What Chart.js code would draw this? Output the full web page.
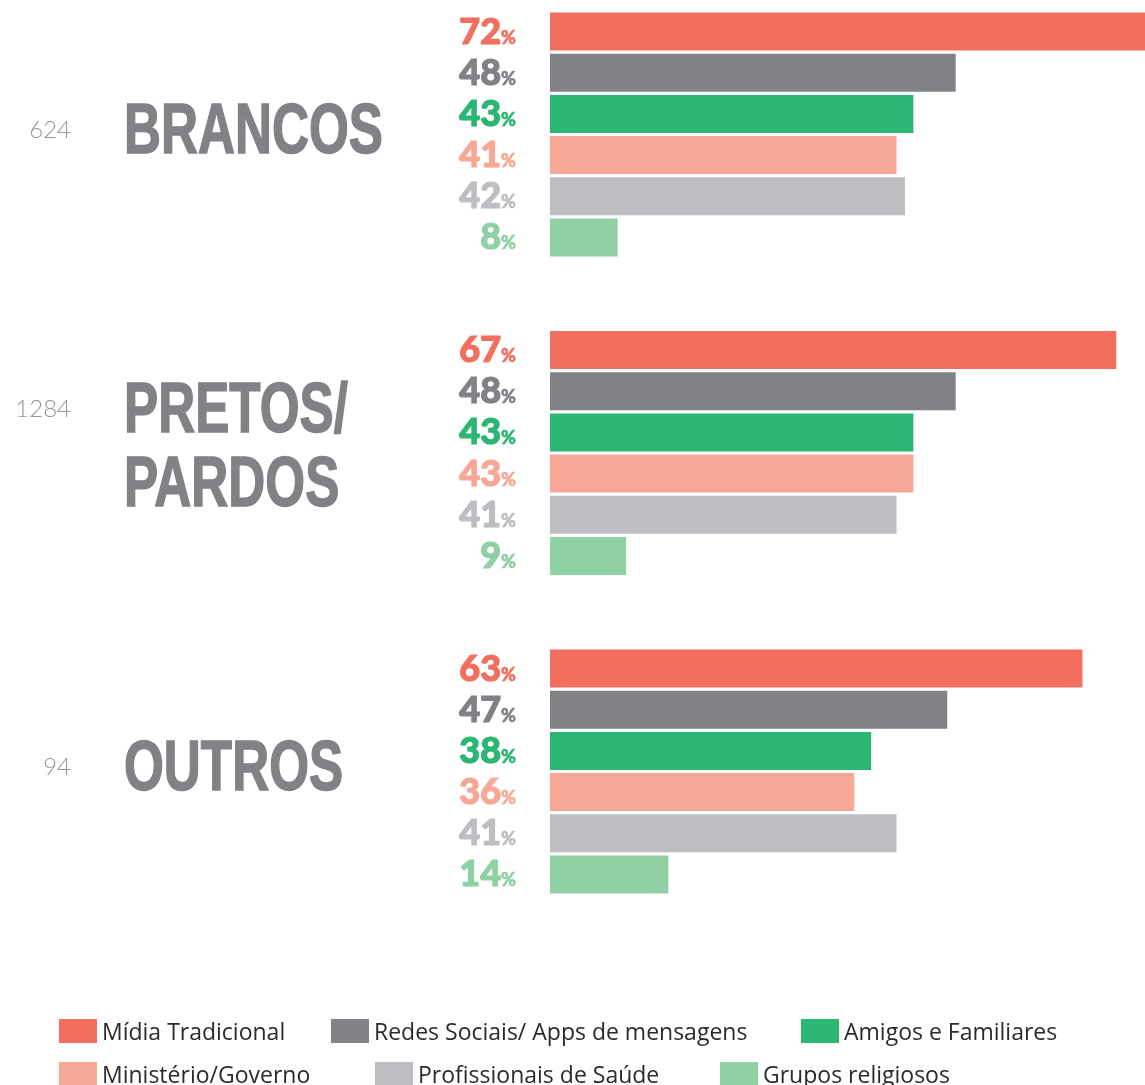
<!DOCTYPE html>
<html>
<head>
<meta charset="utf-8">
<script src="https://cdn.jsdelivr.net/npm/chart.js@4.4.0/dist/chart.umd.min.js"></script>
<style>
body { margin: 0; background: #fff; }
#wrap { position: relative; width: 1145px; height: 1085px; overflow: hidden; }
#chart { position: absolute; left: 0; top: 0; }
.leg { position: absolute; display: flex; align-items: center; height: 24px; font-family: "Open Sans", sans-serif; font-size: 23px; color: #2b2b2b; white-space: nowrap; }
.leg .box { width: 38px; height: 24px; margin-right: 5px; flex: none; }
</style>
</head>
<body>
<div id="wrap">
  <canvas id="chart" width="1145" height="1085"></canvas>
  <div id="legend"></div>
</div>
<script>
// data
const groups = ['BRANCOS', 'PRETOS/\nPARDOS', 'OUTROS'];
const counts = ['624', '1284', '94'];
const seriesNames = ['Mídia Tradicional', 'Redes Sociais/ Apps de mensagens', 'Amigos e Familiares',
                     'Ministério/Governo', 'Profissionais de Saúde', 'Grupos religiosos'];
const midia = [72, 67, 63];
const redes = [48, 48, 47];
const amigos = [43, 43, 38];
const ministerio = [41, 43, 36];
const profissionais = [42, 41, 41];
const religiosos = [8, 9, 14];

const colors = ['#F26F5F', '#808285', '#2BB673', '#F7A795', '#BCBEC1', '#8FD0A4'];
const allSeries = [midia, redes, amigos, ministerio, profissionais, religiosos];

// labels drawn left of the bars
const sideLabels = {
    id: 'sideLabels',
    afterDatasetsDraw(chart) {
        const ctx = chart.ctx;
        ctx.save();
        ctx.textBaseline = 'alphabetic';

        // percent values
        chart.data.datasets.forEach((ds, di) => {
            const meta = chart.getDatasetMeta(di);
            meta.data.forEach((bar, i) => {
                const base = bar.y + 12;
                ctx.fillStyle = ds.backgroundColor;
                ctx.strokeStyle = ds.backgroundColor;
                ctx.textAlign = 'right';
                ctx.font = '900 18px Lato';
                ctx.lineWidth = 0.6;
                ctx.fillText('%', 516, base);
                ctx.strokeText('%', 516, base);
                const w = ctx.measureText('%').width;
                ctx.font = '900 36px Lato';
                ctx.lineWidth = 1.2;
                ctx.fillText(ds.data[i], 516 - w, base);
                ctx.strokeText(ds.data[i], 516 - w, base);
            });
        });

        // group names + counts
        const yScale = chart.scales.y;
        const bigFont = 'bold 70px "Liberation Sans Narrow", "Arial Narrow", sans-serif';
        ctx.font = bigFont;
        const sx = 259 / ctx.measureText('BRANCOS').width;
        groups.forEach((name, i) => {
            const c = yScale.getPixelForValue(i);
            const lines = name.split('\n');
            const n = lines.length;
            let firstBase = 0;
            lines.forEach((line, li) => {
                const base = c + 18.5 + (li - (n - 1) / 2) * 74 - (n - 1) * 2.5;
                if (li === 0) firstBase = base;
                ctx.save();
                ctx.translate(124, base);
                ctx.scale(sx, 1);
                ctx.fillStyle = '#808285';
                ctx.strokeStyle = '#808285';
                ctx.lineWidth = 1.5;
                ctx.textAlign = 'left';
                ctx.font = bigFont;
                ctx.fillText(line, 0, 0);
                ctx.strokeText(line, 0, 0);
                ctx.restore();
            });
            ctx.fillStyle = '#939598';
            ctx.textAlign = 'right';
            ctx.font = '300 24px Lato';
            ctx.fillText(counts[i], 71, firstBase - 24 + 8.5);
        });
        ctx.restore();
    }
};

const chartCanvas = document.getElementById('chart');
new Chart(chartCanvas, {
    type: 'bar',
    data: {
        labels: groups,
        datasets: allSeries.map((vals, i) => ({
            label: seriesNames[i],
            data: vals,
            backgroundColor: colors[i],
            borderWidth: 0,
            clip: false,
            categoryPercentage: 0.7755,
            barPercentage: 0.923
        }))
    },
    options: {
        indexAxis: 'y',
        responsive: false,
        animation: false,
        layout: { padding: { left: 550, right: 0, top: 134.5, bottom: 313.5 } },
        scales: {
            x: { display: false, min: 0, max: 70.4 },
            y: { display: false, offset: false, grid: { offset: false } }
        },
        plugins: {
            legend: { display: false },
            tooltip: { enabled: false }
        }
    },
    plugins: [sideLabels]
});

// legend (two rows, positions as in the original layout)
const legendPos = [[59, 1019], [331, 1019], [801, 1019], [59, 1062], [375, 1062], [720, 1062]];
const legendBox = document.getElementById('legend');
seriesNames.forEach((name, i) => {
    const item = document.createElement('div');
    item.className = 'leg';
    item.style.left = legendPos[i][0] + 'px';
    item.style.top = legendPos[i][1] + 'px';
    item.innerHTML = '<span class="box" style="background:' + colors[i] + '"></span><span>' + name + '</span>';
    legendBox.appendChild(item);
});
</script>
</body>
</html>
